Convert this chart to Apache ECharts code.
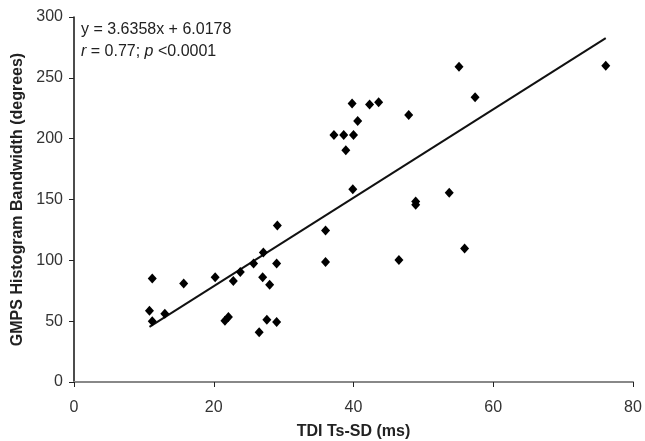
<!DOCTYPE html>
<html>
<head>
<meta charset="utf-8">
<script src="https://cdn.jsdelivr.net/npm/echarts@6/dist/echarts.min.js"></script>
<style>
  html, body { margin: 0; padding: 0; background: #fff; }
  #chart { width: 645px; height: 441px; }
</style>
</head>
<body>
<div id="chart"></div>
<script>
// TDI Ts-SD (ms) for each patient
const tsSd = [
  10.8, 11.2, 11.2, 13.0, 15.7, 20.2, 21.6, 22.1, 22.8, 23.8,
  25.7, 26.5, 27.0, 27.1, 27.6, 28.0, 29.0, 29.0, 29.1, 36.0,
  36.0, 37.2, 38.6, 38.9, 39.8, 40.0, 39.9, 40.6, 42.3, 43.6,
  46.5, 47.9, 48.9, 48.9, 53.7, 55.1, 55.9, 57.4, 76.1
];
// GMPS histogram bandwidth (degrees) for the same patients
const bandwidth = [
  58.6, 85.0, 50.0, 56.0, 81.0, 86.0, 50.4, 53.4, 83.0, 90.5,
  97.5, 40.8, 86.0, 106.5, 51.2, 80.0, 97.5, 49.3, 128.7, 124.6,
  98.6, 203.0, 203.0, 190.4, 229.0, 203.0, 158.4, 214.6, 228.0, 230.0,
  100.3, 219.4, 148.4, 145.7, 155.5, 259.2, 109.8, 234.0, 260.0
];
// Linear fit reported on the chart
const slope = 3.6358;
const intercept = 6.0178;
const xTicks = [0, 20, 40, 60, 80];
const yTicks = [0, 50, 100, 150, 200, 250, 300];

const points = tsSd.map((x, i) => [x, bandwidth[i]]);
const xMin = Math.min(...tsSd);
const xMax = Math.max(...tsSd);
const fitLine = [xMin, xMax].map(x => [x, slope * x + intercept]);

const chart = echarts.init(document.getElementById('chart'));
const font = 'Liberation Sans, Arial, sans-serif';

chart.setOption({
  animation: false,
  grid: { left: 74, right: 12, top: 17, bottom: 59, outerBoundsMode: 'none', containLabel: false },
  xAxis: {
    type: 'value',
    min: xTicks[0], max: xTicks[xTicks.length - 1], interval: 20,
    name: 'TDI Ts-SD (ms)',
    nameLocation: 'middle', nameGap: 42,
    nameTextStyle: { fontFamily: font, fontSize: 16, fontWeight: 'bold', color: '#222' },
    axisLine: { lineStyle: { color: '#888', width: 2 } },
    axisTick: { show: true, length: 5, lineStyle: { color: '#222', width: 1 } },
    axisLabel: { fontFamily: font, fontSize: 16, color: '#333', margin: 18 },
    splitLine: { show: false }
  },
  yAxis: {
    type: 'value',
    min: yTicks[0], max: yTicks[yTicks.length - 1], interval: 50,
    name: 'GMPS Histogram Bandwidth (degrees)',
    nameLocation: 'middle', nameGap: 47, nameRotate: 90,
    nameTextStyle: { fontFamily: font, fontSize: 16, fontWeight: 'bold', color: '#222' },
    axisLine: { show: true, lineStyle: { color: '#111', width: 1.5 } },
    axisTick: { show: true, length: 5, lineStyle: { color: '#222', width: 1 } },
    axisLabel: { fontFamily: font, fontSize: 16, color: '#333', margin: 11 },
    splitLine: { show: false }
  },
  graphic: [
    {
      type: 'text', left: 81, top: 22,
      style: {
        text: 'y = 3.6358x + 6.0178',
        font: '16px Liberation Sans, Arial, sans-serif',
        fill: '#222'
      }
    },
    {
      type: 'text', left: 81, top: 44,
      style: {
        text: '{i|r} = 0.77; {i|p} <0.0001',
        font: '16px Liberation Sans, Arial, sans-serif',
        fill: '#222',
        rich: {
          i: { fontStyle: 'italic', fontSize: 16, fontFamily: font, fill: '#222' }
        }
      }
    }
  ],
  series: [
    {
      type: 'scatter',
      data: points,
      symbol: 'diamond',
      symbolSize: [9, 10],
      itemStyle: { color: '#000', opacity: 1 },
      z: 3
    },
    {
      type: 'line',
      data: fitLine,
      showSymbol: false,
      lineStyle: { color: '#111', width: 2 },
      z: 2
    }
  ]
});
</script>
</body>
</html>
